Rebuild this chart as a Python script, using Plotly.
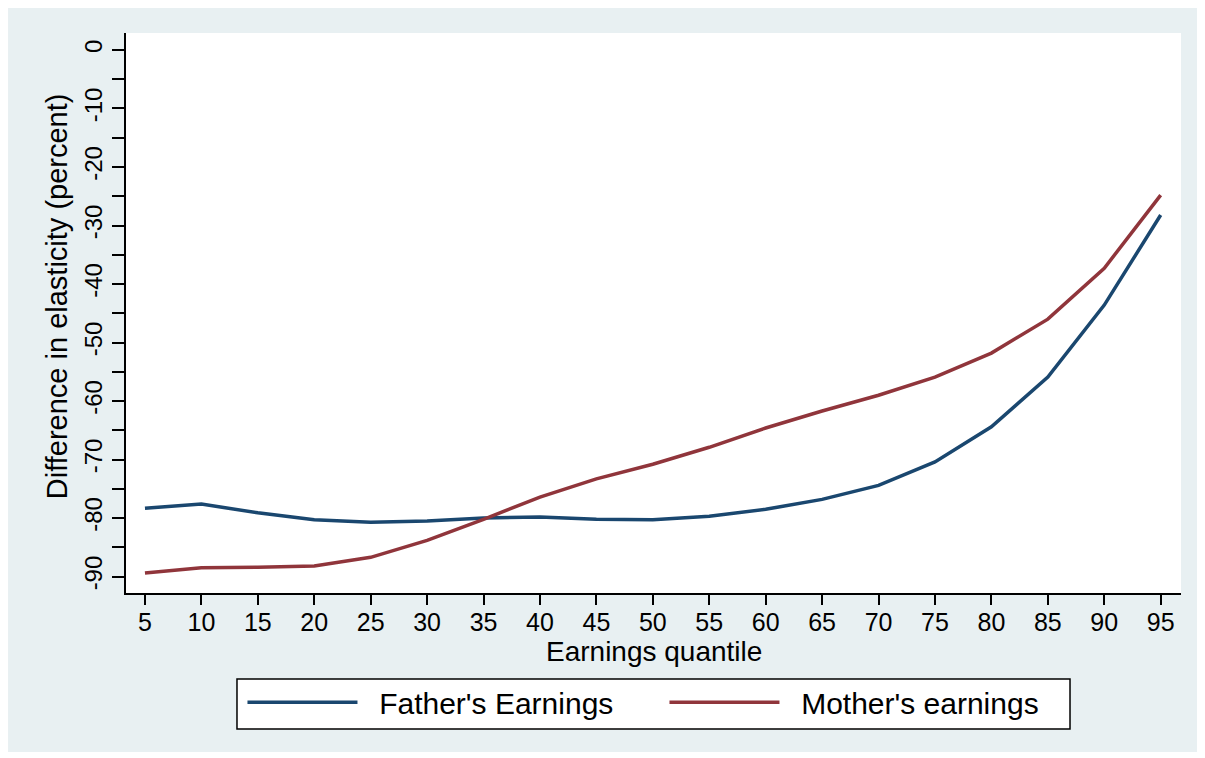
import plotly.graph_objects as go

# earnings quantiles and estimated differences in elasticity (percent)
quantile = [5, 10, 15, 20, 25, 30, 35, 40, 45, 50, 55, 60, 65, 70, 75, 80, 85, 90, 95]
father = [-78.3, -77.6, -79.1, -80.3, -80.7, -80.5, -80.0, -79.8, -80.2, -80.3,
          -79.7, -78.5, -76.8, -74.4, -70.4, -64.4, -55.9, -43.6, -28.2]
mother = [-89.4, -88.5, -88.4, -88.2, -86.7, -83.8, -80.2, -76.4, -73.3, -70.8,
          -67.9, -64.6, -61.7, -59.0, -55.9, -51.8, -46.0, -37.3, -24.8]

ytick_vals = list(range(-90, 1, 10))
ytick_text = [str(v) for v in ytick_vals]   # plain hyphen, like the original
ytick_minor = list(range(-85, 0, 10))
grid_vals = list(range(-90, 0, 10))

BG = '#e8f0f2'
FONT = 'Liberation Sans, Arial, sans-serif'
NB = '\u00a0\u00a0'

fig = go.Figure()
fig.add_trace(go.Scatter(x=quantile, y=father, mode='lines', name=NB + "Father's Earnings",
                         line=dict(color='#1a476f', width=3.5), yaxis='y2'))
fig.add_trace(go.Scatter(x=quantile, y=mother, mode='lines', name=NB + "Mother's earnings",
                         line=dict(color='#90353b', width=3.5), yaxis='y2'))

yrange = [-92.8, 2.9]

fig.update_layout(
    width=1197, height=750, autosize=False,
    margin=dict(l=118, r=24, t=25, b=165),
    paper_bgcolor='white', plot_bgcolor='white',
    font=dict(family=FONT, color='black', size=25),
    shapes=[
        # graph region
        dict(type='rect', xref='paper', yref='paper', x0=-0.1118, x1=1.0171, y0=-0.284, y1=1.0446,
             fillcolor=BG, line=dict(width=0), layer='below'),
        dict(type='rect', xref='paper', yref='paper', x0=0, x1=1, y0=0, y1=1,
             fillcolor='white', line=dict(width=0), layer='below'),
        # legend box
        dict(type='rect', xref='paper', yref='paper', x0=0.1052, x1=0.8948, y0=-0.2429, y1=-0.1536,
             fillcolor='white', line=dict(color='black', width=1.5), layer='above'),
    ],
    annotations=[
        dict(text='Earnings quantile', xref='paper', yref='paper', x=0.5, y=-0.105,
             xanchor='center', yanchor='middle', showarrow=False, font=dict(size=28)),
        dict(text='Difference in elasticity (percent)', xref='paper', yref='paper',
             x=-0.0654, y=0.53, xanchor='center', yanchor='middle', textangle=-90,
             showarrow=False, font=dict(size=29)),
    ],
    xaxis=dict(
        range=[3.32, 96.8], tickvals=quantile, ticks='outside', ticklen=10, tickwidth=2,
        tickcolor='black', showline=True, linecolor='black', linewidth=2,
        showgrid=False, zeroline=False, tickfont=dict(size=25), ticklabelstandoff=-4,
    ),
    yaxis=dict(
        range=yrange, tickvals=grid_vals, showticklabels=False, ticks='',
        showgrid=True, gridcolor=BG, gridwidth=2, zeroline=False, showline=False,
    ),
    yaxis2=dict(
        overlaying='y', side='left', anchor='x', range=yrange,
        tickvals=ytick_vals, ticktext=ytick_text,
        tickangle=-90, ticks='outside', ticklen=12, tickwidth=2, tickcolor='black',
        minor=dict(tickvals=ytick_minor, ticks='outside', ticklen=12, tickwidth=2,
                   tickcolor='black', showgrid=False),
        showline=True, linecolor='black', linewidth=2, showgrid=False, zeroline=False,
        tickfont=dict(size=24),
    ),
    legend=dict(
        orientation='h', x=0.5104, xanchor='center', y=-0.1486, yanchor='top',
        bgcolor='rgba(0,0,0,0)', borderwidth=0,
        font=dict(size=30), itemwidth=110, entrywidth=297,
    ),
)

fig.write_html("out.html")
